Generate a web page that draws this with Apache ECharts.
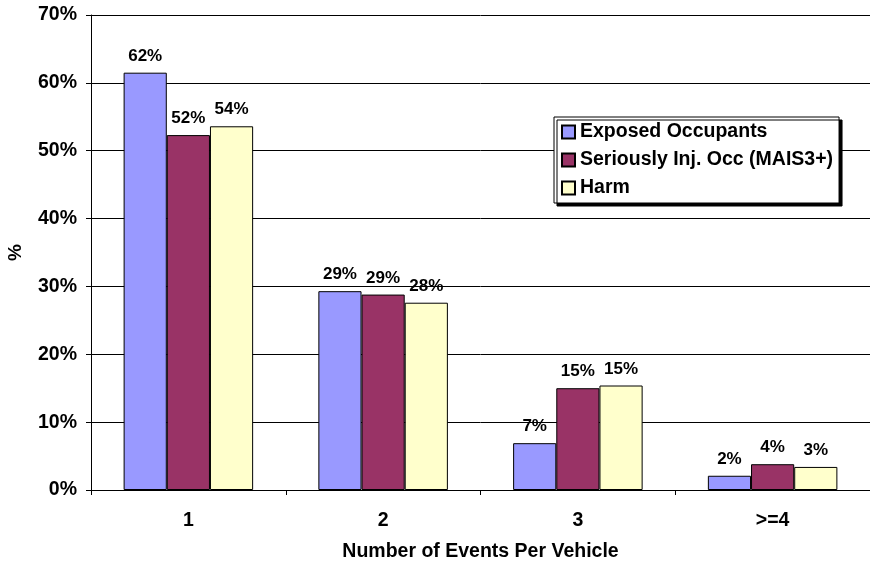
<!DOCTYPE html>
<html><head><meta charset="utf-8">
<script src="https://cdn.jsdelivr.net/npm/echarts@6/dist/echarts.min.js"></script>
<style>html,body{margin:0;padding:0;background:#fff}#c{width:870px;height:563px}</style>
</head><body><div id="c"></div>
<script>
const categories = ['1', '2', '3', '>=4'];
const exposedOccupants = [61.5, 29.3, 6.9, 2.1];
const seriouslyInjured = [52.3, 28.8, 15.0, 3.8];
const harm = [53.6, 27.6, 15.4, 3.4];
const seriesNames = ['Exposed Occupants', 'Seriously Inj. Occ (MAIS3+)', 'Harm'];
const colors = ['#9999FF', '#993366', '#FFFFCC'];
const FONT = 'Liberation Sans, Arial, sans-serif';

const chart = echarts.init(document.getElementById('c'), null, {renderer: 'canvas'});
function mk(name, data, color) {
  return {
    name: name, type: 'bar', data: data, barGap: '0%', barCategoryGap: '33.5%',
    itemStyle: {color: color, borderColor: '#000', borderWidth: 1},
    label: {show: true, position: 'top', distance: 8, formatter: p => Math.round(p.value) + '%',
      fontFamily: FONT, fontWeight: 'bold', fontSize: 17, color: '#000'}
  };
}
chart.setOption({
  animation: false,
  grid: {left: 91, right: 0, top: 15, bottom: 73, containLabel: false, outerBoundsMode: 'none'},
  legend: {
    orient: 'vertical', left: 554, top: 117, itemWidth: 13, itemHeight: 13, itemGap: 8,
    padding: [5, 6, 5, 7],
    backgroundColor: '#fff', borderColor: '#000', borderWidth: 1,
    shadowColor: '#000', shadowOffsetX: 3, shadowOffsetY: 3, shadowBlur: 0,
    icon: 'rect',
    textStyle: {fontFamily: FONT, fontWeight: 'bold', fontSize: 19.5, color: '#000'},
    data: seriesNames
  },
  xAxis: {
    type: 'category', data: categories,
    name: 'Number of Events Per Vehicle', nameLocation: 'middle', nameGap: 52, nameMoveOverlap: false,
    nameTextStyle: {fontFamily: FONT, fontWeight: 'bold', fontSize: 19.5, color: '#000'},
    axisLine: {lineStyle: {color: '#000', width: 1}},
    axisTick: {show: true, length: 5, lineStyle: {color: '#000'}},
    axisLabel: {fontFamily: FONT, fontWeight: 'bold', fontSize: 19.5, color: '#000', margin: 21}
  },
  yAxis: {
    type: 'value', min: 0, max: 70, interval: 10,
    name: '%', nameLocation: 'middle', nameGap: 66, nameRotate: 90, nameMoveOverlap: false,
    nameTextStyle: {fontFamily: FONT, fontWeight: 'bold', fontSize: 19, color: '#000'},
    axisLine: {show: true, lineStyle: {color: '#000', width: 1}},
    axisTick: {show: true, length: 5, lineStyle: {color: '#000'}},
    axisLabel: {formatter: '{value}%', fontFamily: FONT, fontWeight: 'bold', fontSize: 19.5, color: '#000', margin: 14},
    splitLine: {show: true, lineStyle: {color: '#000', width: 1}}
  },
  series: [mk(seriesNames[0], exposedOccupants, colors[0]), mk(seriesNames[1], seriouslyInjured, colors[1]), mk(seriesNames[2], harm, colors[2])]
});
</script></body></html>
